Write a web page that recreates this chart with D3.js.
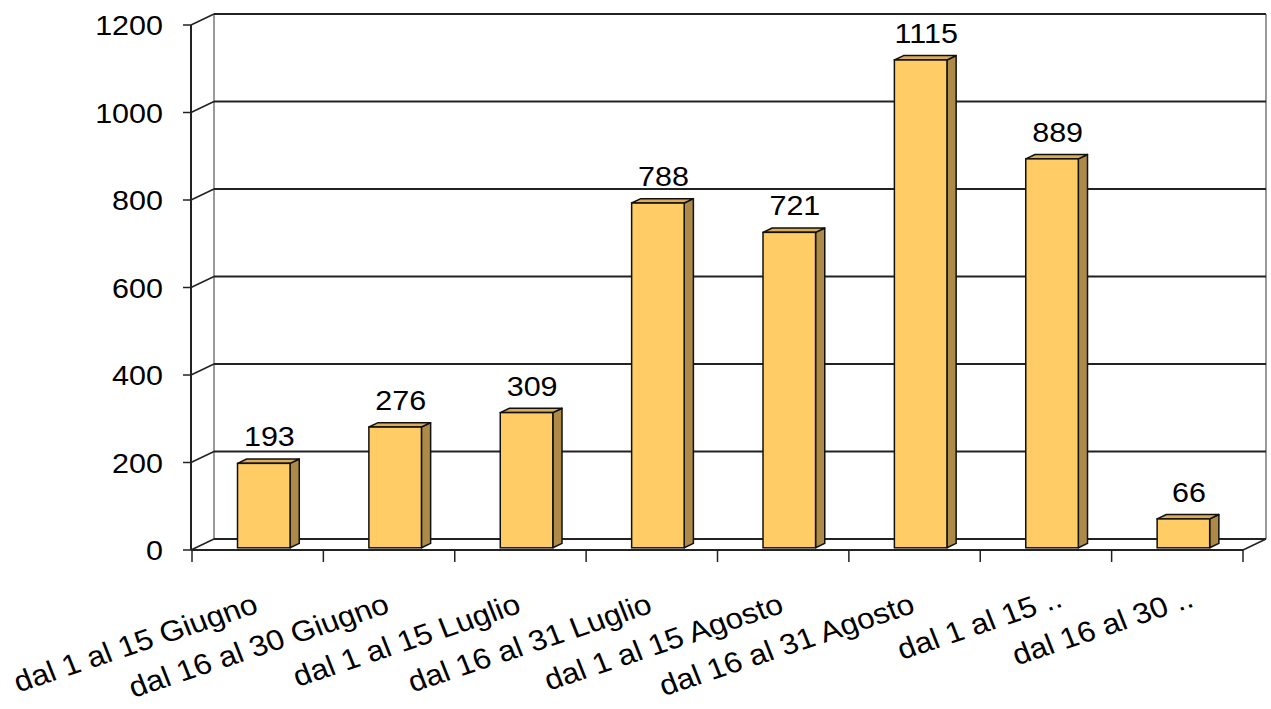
<!DOCTYPE html>
<html>
<head>
<meta charset="utf-8">
<script src="https://cdn.jsdelivr.net/npm/d3@7"></script>
<style>
  html, body { margin: 0; padding: 0; background: #fff; }
  svg { display: block; }
  text { font-family: "Liberation Sans", Arial, sans-serif; fill: #000; }
</style>
</head>
<body>
<svg id="chart" width="1271" height="709"></svg>
<script>
const categories = ["dal 1 al 15 Giugno", "dal 16 al 30 Giugno", "dal 1 al 15 Luglio", "dal 16 al 31 Luglio",
                    "dal 1 al 15 Agosto", "dal 16 al 31 Agosto", "dal 1 al 15 ..", "dal 16 al 30 .."];
const values = [193, 276, 309, 788, 721, 1115, 889, 66];
const yTicks = [0, 200, 400, 600, 800, 1000, 1200];

const svg = d3.select("#chart");

// 3D geometry
const DX = 23, DY = -11;           // full-depth offset
const F0 = 0.2, F1 = 0.6;          // bar front/back depth fractions
const STRETCH = 1.09;

const x = d3.scaleBand().domain(categories).range([192, 1243]);
const y = d3.scaleLinear().domain([0, 1200]).range([550, 25]);
const barW = x.bandwidth() * 0.4;

const gridG = svg.append("g");
// back wall left edge & right edge (gray)
gridG.append("line").attr("x1", 191 + DX).attr("x2", 191 + DX).attr("y1", y(1200) + DY).attr("y2", y(0) + DY)
  .attr("stroke", "#9a9a9a").attr("stroke-width", 2);
gridG.append("line").attr("x1", 1243 + DX).attr("x2", 1243 + DX).attr("y1", y(1200) + DY).attr("y2", y(0) + DY)
  .attr("stroke", "#9a9a9a").attr("stroke-width", 2);

// gridlines on back wall + diagonals on left wall + ticks
yTicks.forEach(t => {
  const yy = y(t);
  gridG.append("line").attr("x1", 191 + DX).attr("x2", 1243 + DX).attr("y1", yy + DY).attr("y2", yy + DY)
    .attr("stroke", "#222").attr("stroke-width", 2);
  gridG.append("line").attr("x1", 191).attr("x2", 191 + DX).attr("y1", yy).attr("y2", yy + DY)
    .attr("stroke", "#222").attr("stroke-width", 1.5);
  gridG.append("line").attr("x1", 183).attr("x2", 191).attr("y1", yy).attr("y2", yy)
    .attr("stroke", "#222").attr("stroke-width", 1.5);
  gridG.append("text")
    .attr("transform", `translate(163,${yy}) scale(${STRETCH},1)`)
    .attr("text-anchor", "end").attr("dy", "0.36em")
    .style("font-size", "28px").text(t);
});

// left axis vertical
gridG.append("line").attr("x1", 191).attr("x2", 191).attr("y1", y(1200)).attr("y2", y(0))
  .attr("stroke", "#222").attr("stroke-width", 2);
// floor front line and right diagonal
gridG.append("line").attr("x1", 191).attr("x2", 1243).attr("y1", y(0)).attr("y2", y(0))
  .attr("stroke", "#222").attr("stroke-width", 2);
gridG.append("line").attr("x1", 1243).attr("x2", 1243 + DX).attr("y1", y(0)).attr("y2", y(0) + DY)
  .attr("stroke", "#222").attr("stroke-width", 1.5);

// category ticks
const tickXs = categories.map(c => x(c)).concat([x.range()[1]]);
tickXs.forEach(tx => {
  gridG.append("line").attr("x1", tx).attr("x2", tx).attr("y1", y(0)).attr("y2", y(0) + 12)
    .attr("stroke", "#222").attr("stroke-width", 1.5);
});

// bars
const barG = svg.append("g");
categories.forEach((c, i) => {
  const v = values[i];
  const cx = x(c) + x.bandwidth() / 2 + 1.5;
  const xl = cx - barW / 2 + DX * F0;
  const xr = cx + barW / 2 + DX * F0;
  const yb = y(0) + DY * F0;
  const yt = y(v) + DY * F0;
  const ddx = DX * (F1 - F0), ddy = DY * (F1 - F0);
  // side
  barG.append("path")
    .attr("d", `M${xr},${yb} L${xr + ddx},${yb + ddy} L${xr + ddx},${yt + ddy} L${xr},${yt} Z`)
    .attr("fill", "#ad8a47").attr("stroke", "#111").attr("stroke-width", 1.5).attr("stroke-linejoin", "round");
  // top
  barG.append("path")
    .attr("d", `M${xl},${yt} L${xl + ddx},${yt + ddy} L${xr + ddx},${yt + ddy} L${xr},${yt} Z`)
    .attr("fill", "#dcac58").attr("stroke", "#111").attr("stroke-width", 1.5).attr("stroke-linejoin", "round");
  // front
  barG.append("rect")
    .attr("x", xl).attr("y", yt).attr("width", xr - xl).attr("height", yb - yt)
    .attr("fill", "#ffcc66").attr("stroke", "#111").attr("stroke-width", 1.5);
  // value label
  barG.append("text")
    .attr("transform", `translate(${(xl + xr) / 2 + ddx / 2 + 1},${yt - 17}) scale(${STRETCH},1)`)
    .attr("text-anchor", "middle")
    .style("font-size", "28px").text(v);
});

// category labels
const labG = svg.append("g");
categories.forEach(c => {
  const trunc = c.endsWith("..");
  const ex = x(c) + x.bandwidth() / 2 + (trunc ? 18 : 2);
  const ey = trunc ? 606 : 612;
  labG.append("text")
    .attr("transform", `translate(${ex},${ey}) scale(${STRETCH},1) rotate(-20)`)
    .attr("text-anchor", "end")
    .style("font-size", "29px").text(c);
});
</script>
</body>
</html>
